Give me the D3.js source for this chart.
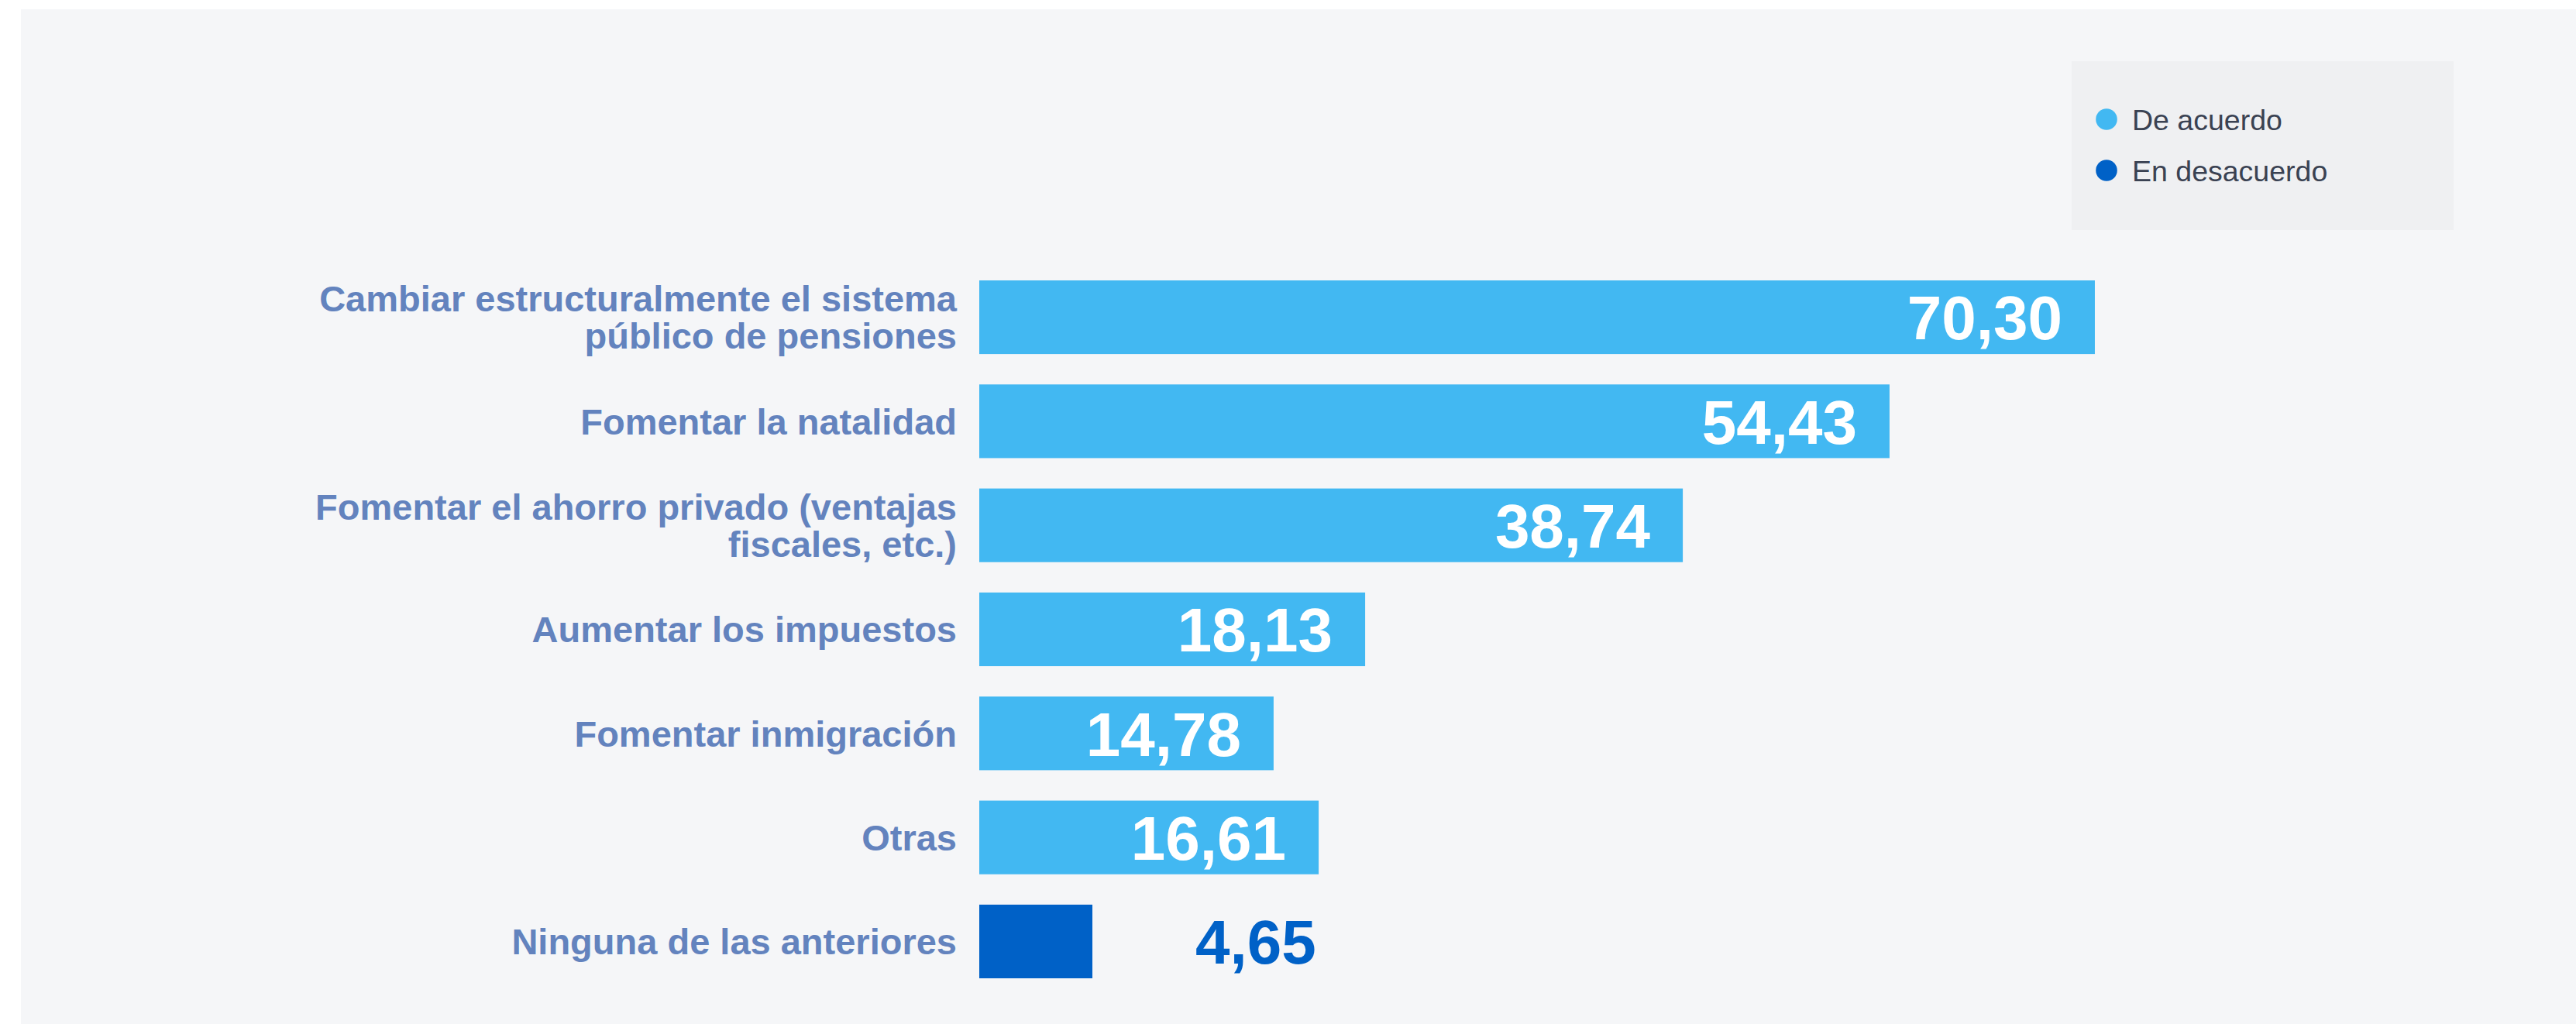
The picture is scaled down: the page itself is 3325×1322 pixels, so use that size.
<!DOCTYPE html>
<html>
<head>
<meta charset="utf-8">
<script src="https://cdn.jsdelivr.net/npm/d3@7"></script>
<style>
html,body{margin:0;padding:0;background:#ffffff;}
svg{display:block;}
</style>
</head>
<body>
<svg id="chart" width="3325" height="1322"></svg>
<script>
// ---- data ----
const categories = [
  "Cambiar estructuralmente el sistema público de pensiones",
  "Fomentar la natalidad",
  "Fomentar el ahorro privado (ventajas fiscales, etc.)",
  "Aumentar los impuestos",
  "Fomentar inmigración",
  "Otras",
  "Ninguna de las anteriores"
];
const categoryLines = [
  ["Cambiar estructuralmente el sistema", "público de pensiones"],
  ["Fomentar la natalidad"],
  ["Fomentar el ahorro privado (ventajas", "fiscales, etc.)"],
  ["Aumentar los impuestos"],
  ["Fomentar inmigración"],
  ["Otras"],
  ["Ninguna de las anteriores"]
];
const seriesNames = ["De acuerdo", "En desacuerdo"];
const barSeries = ["De acuerdo", "De acuerdo", "De acuerdo", "De acuerdo", "De acuerdo", "De acuerdo", "En desacuerdo"];
// bar lengths as drawn in the picture (percent scale)
const barValues = [70.31, 57.37, 44.34, 24.32, 18.55, 21.39, 7.13];
// printed value labels
const labelValues = [70.30, 54.43, 38.74, 18.13, 14.78, 16.61, 4.65];

// ---- layout ----
const W = 3325, H = 1322;
const svg = d3.select("#chart");
const color = d3.scaleOrdinal().domain(seriesNames).range(["#42b8f2", "#0061c7"]);
const fmt = d3.formatLocale({decimal: ",", thousands: ".", grouping: [3], currency: ["", "€"]}).format(".2f");
const FONT = "'Liberation Sans', Arial, Helvetica, sans-serif";

svg.append("rect").attr("x", 27).attr("y", 12).attr("width", W - 27).attr("height", H - 12).attr("fill", "#f5f6f8");

const x = d3.scaleLinear().domain([0, 100]).range([1264, 3312]);
const y = d3.scaleBand().domain(categories).range([362, 1263]).paddingInner(0.292).paddingOuter(0);

const rows = categories.map((c, i) => ({
  cat: c, lines: categoryLines[i], series: barSeries[i], v: barValues[i], label: labelValues[i]
}));

// bars
svg.append("g").selectAll("rect").data(rows).join("rect")
  .attr("x", x(0))
  .attr("y", d => y(d.cat))
  .attr("width", d => x(d.v) - x(0))
  .attr("height", y.bandwidth())
  .attr("fill", d => color(d.series));

// category labels
const fsCat = 47, lh = 48;
const catG = svg.append("g")
  .attr("font-family", FONT)
  .attr("font-weight", "bold")
  .attr("font-size", fsCat)
  .attr("fill", "#6383be")
  .attr("text-anchor", "end");
rows.forEach(d => {
  const cy = y(d.cat) + y.bandwidth() / 2;
  const n = d.lines.length;
  d.lines.forEach((ln, j) => {
    catG.append("text").attr("x", 1235)
      .attr("y", cy + (j - (n - 1) / 2) * lh + fsCat * 0.36)
      .text(ln);
  });
});

// value labels
const fsVal = 80;
svg.append("g")
  .attr("font-family", FONT)
  .attr("font-weight", "bold")
  .attr("font-size", fsVal)
  .selectAll("text").data(rows).join("text")
  .attr("x", d => d.series === "De acuerdo" ? x(d.v) - 42 : x(d.v) + 133)
  .attr("y", d => y(d.cat) + y.bandwidth() / 2 + fsVal * 0.36)
  .attr("text-anchor", d => d.series === "De acuerdo" ? "end" : "start")
  .attr("fill", d => d.series === "De acuerdo" ? "#ffffff" : color(d.series))
  .text(d => fmt(d.label));

// legend
const lg = svg.append("g");
lg.append("rect").attr("x", 2674).attr("y", 79).attr("width", 493).attr("height", 218).attr("fill", "#eff0f2");
const li = lg.selectAll("g.item").data(seriesNames).join("g").attr("class", "item")
  .attr("transform", (d, i) => `translate(2719, ${154 + i * 66})`);
li.append("circle").attr("r", 13.8).attr("fill", d => color(d));
li.append("text").attr("x", 33).attr("y", 37.5 * 0.36)
  .attr("font-family", FONT)
  .attr("font-size", 37.5).attr("fill", "#3a4252")
  .text(d => d);
</script>
</body>
</html>
